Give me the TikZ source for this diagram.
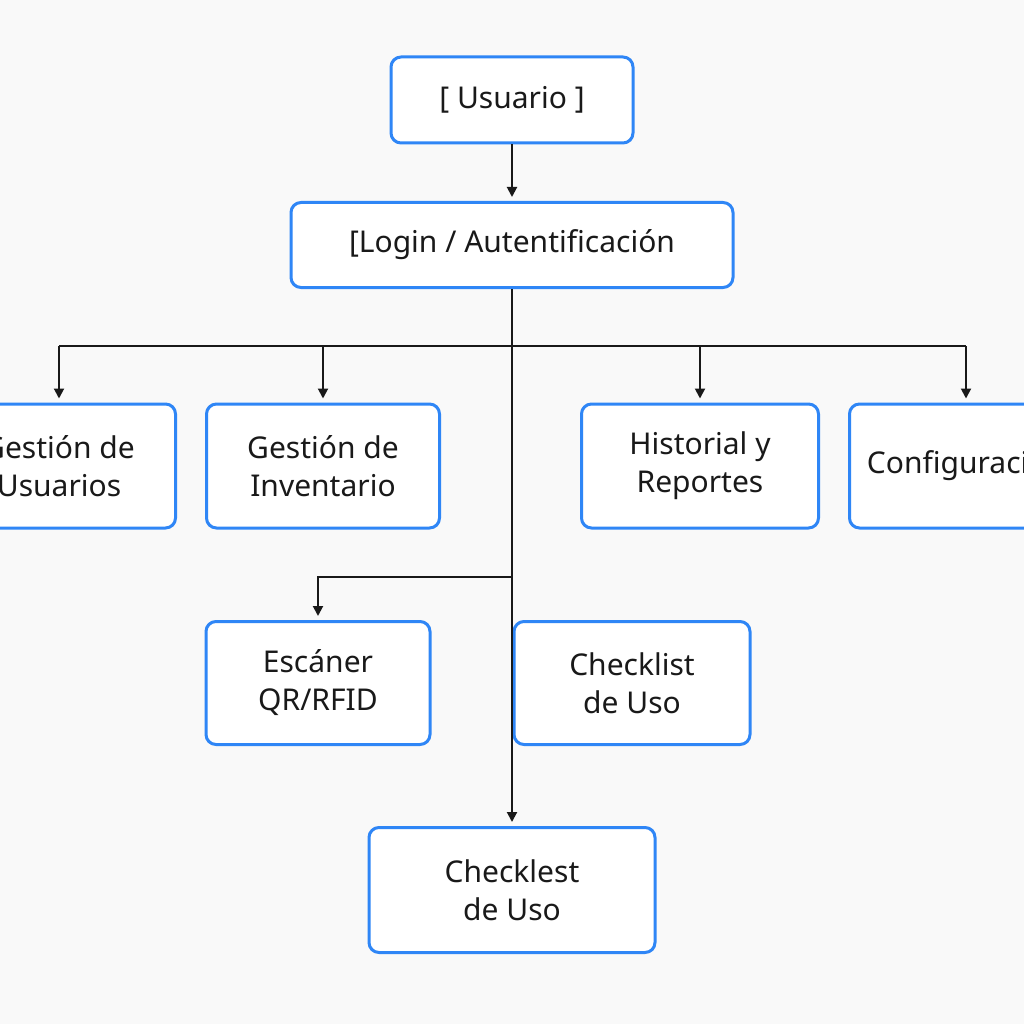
\documentclass[tikz,border=0pt]{standalone}
\usepackage{fontspec}
\setmainfont{Noto Sans}
\usetikzlibrary{arrows.meta, positioning}
\definecolor{boxblue}{HTML}{2F86F6}
\definecolor{bggray}{HTML}{F9F9F9}

\begin{document}
\begin{tikzpicture}[x=1pt, y=-1pt,
            box/.style={draw=boxblue, line width=3pt, rounded corners=10pt, fill=white, align=center,
                        text=black!90, font=\fontsize{30}{38}\selectfont, minimum height=124pt},
            link/.style={line width=2pt, draw=black!90, -{Triangle[length=10pt, width=10pt]}, shorten >=4pt}]
            \clip (0,0) rectangle (1024,1024);
            \fill[bggray] (0,0) rectangle (1024,1024);

            \node[box, minimum width=242pt, minimum height=86pt] (usuario) at (512,100) {[ Usuario ]};
            \node[box, minimum width=442pt, minimum height=85pt] (login) at (512,245) {[Login / Autentificación};

            \node[box, minimum width=233pt] (gusr) at (59,466) {Gestión de\\Usuarios};
            \node[box, minimum width=233pt] (ginv) at (323,466) {Gestión de\\Inventario};
            \node[box, minimum width=237pt] (hist) at (700,466) {Historial y\\Reportes};
            \node[box, minimum width=233pt] (conf) at (966,466) {Configuración};

            \node[box, minimum width=224pt, minimum height=123pt] (escaner) at (318,683) {Escáner\\QR/RFID};
            \node[box, minimum width=236pt, minimum height=123pt] (chklist) at (632,683) {Checklist\\de Uso};
            \node[box, minimum width=286pt, minimum height=125pt] (chkest) at (512,890) {Checklest\\de Uso};

            \coordinate (bus) at (512,346);
            \coordinate (split) at (512,577);

            \draw[link] (usuario) -- (login);
            \draw[link] (login.south) -- (chkest.north);
            \draw[line width=2pt, draw=black!90] (gusr.north |- bus) -- (conf.north |- bus);
            \foreach \n in {gusr, ginv, hist, conf}
                \draw[link] (\n.north |- bus) -- (\n.north);
            \draw[link] (split) -| (escaner.north);
        \end{tikzpicture}
\end{document}
